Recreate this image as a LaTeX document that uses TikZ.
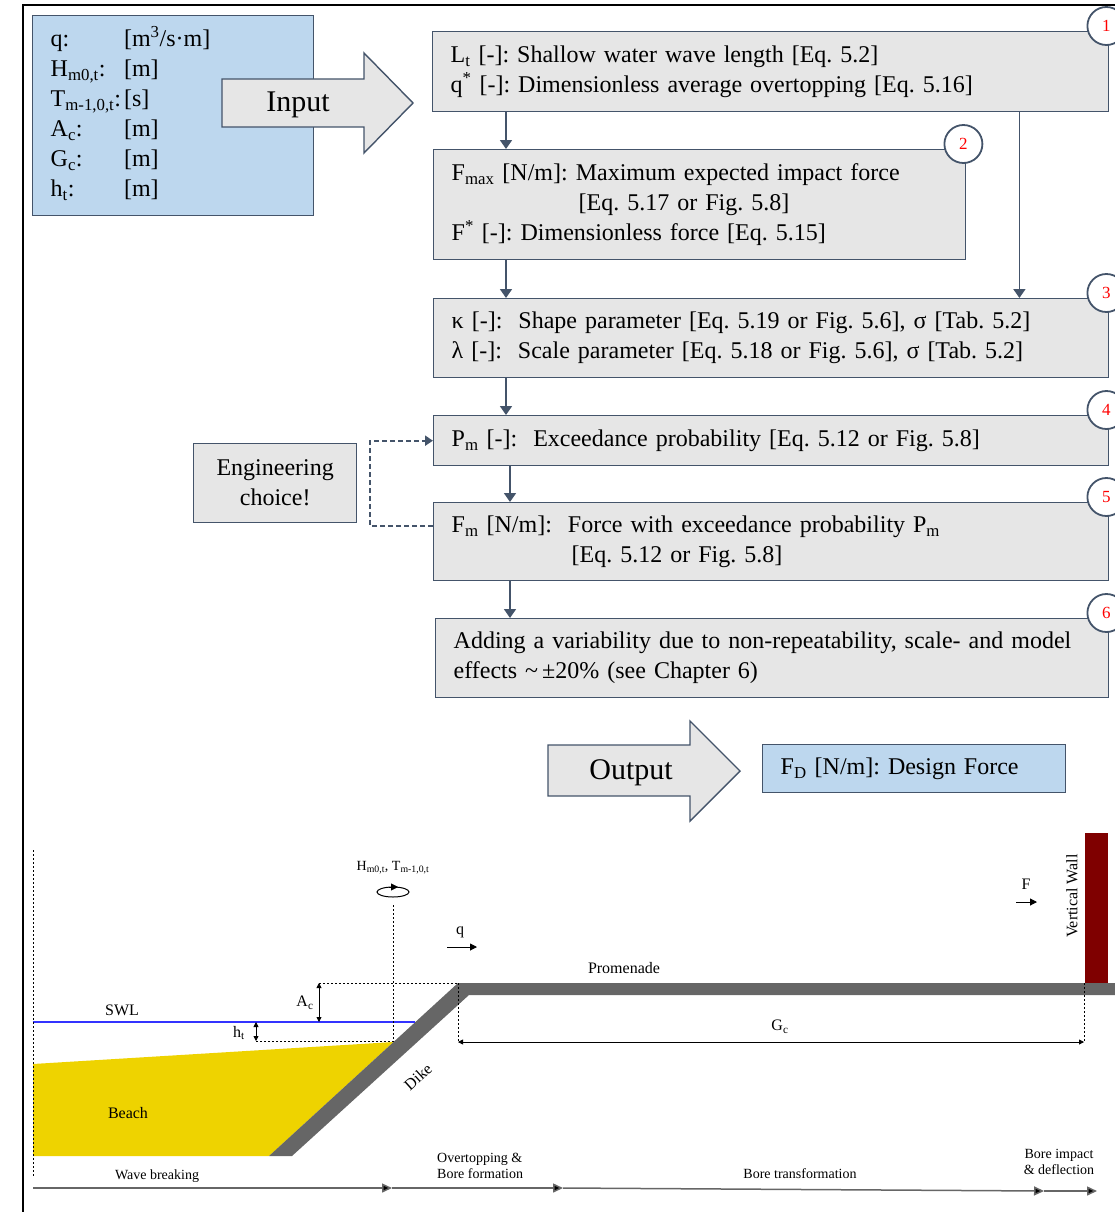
\documentclass[tikz,border=0pt]{standalone}
\usepackage{fontspec}
\setmainfont{Liberation Serif}
\usetikzlibrary{arrows.meta}

\definecolor{slate}{HTML}{44546A}
\definecolor{boxgray}{HTML}{E6E6E6}
\definecolor{inblue}{HTML}{BDD7EE}
\definecolor{sand}{HTML}{EED300}
\definecolor{dikegray}{HTML}{666666}
\definecolor{wallred}{HTML}{7F0000}
\definecolor{swlblue}{HTML}{3333FF}

\frenchspacing

\begin{document}
\begin{tikzpicture}[x=1pt,y=-1pt,
  flow/.style={draw=slate,line width=1.8pt,-{Triangle[length=9pt,width=12pt]}},
  choice line/.style={draw=slate,line width=2pt,dash pattern=on 5pt off 3pt,-{Triangle[length=8pt,width=10pt]}},
  calc box/.style={draw=slate,fill=boxgray,line width=1.4pt,anchor=north west,
    inner xsep=18pt,inner ysep=0pt,align=left,font=\fontsize{24}{30}\selectfont},
  in box/.style={calc box,fill=inblue},
  num/.style={circle,draw=slate,fill=white,line width=1.8pt,minimum size=38pt,
    inner sep=0pt,text=red,font=\fontsize{17}{17}\selectfont},
  big arrow/.style={draw=slate,fill=boxgray,line width=1.4pt,line join=miter},
  label/.style={inner sep=0pt,font=\fontsize{16}{18}\selectfont},
  small label/.style={inner sep=0pt,font=\fontsize{14}{16}\selectfont},
  dim/.style={line width=0.8pt,{Triangle[length=5pt,width=5pt]}-{Triangle[length=5pt,width=5pt]}},
  aux/.style={line width=0.7pt,dash pattern=on 2pt off 2pt},
  phase/.style={draw=black!60,line width=1.5pt,-{Triangle[length=10pt,width=9pt,fill=black]}}]

  \useasboundingbox (0,0) rectangle (1115,1212);
  \clip (0,0) rectangle (1115,1212);
  \draw[line width=2.5pt] (23,1230) -- (23,5) -- (1130,5);

  % input parameters
  \node[in box,text width=245pt,minimum height=200pt] (inp) at (32,15) {%
    \begin{tabular}{@{}l@{\hspace{3pt}}l@{}}
      q: & [m\textsuperscript{3}/s·m]\\
      H\textsubscript{m0,t}: & [m]\\
      T\textsubscript{m-1,0,t}: & [s]\\
      A\textsubscript{c}: & [m]\\
      G\textsubscript{c}: & [m]\\
      h\textsubscript{t}: & [m]
    \end{tabular}};
  \draw[big arrow] (222,79) -- (364,79) -- (364,53) -- (413,103) -- (364,153)
    -- (364,127) -- (222,127) -- cycle;
  \node[font=\fontsize{30}{30}\selectfont] (inlab) at (298,105) {Input};

  % calculation steps
  \node[calc box,text width=640pt,minimum height=80pt] (b1) at (432,31)
    {L\textsubscript{t} [-]: Shallow water wave length [Eq. 5.2]\\
     q\textsuperscript{*} [-]: Dimensionless average overtopping [Eq. 5.16]};
  \node[calc box,text width=496pt,minimum height=110pt] (b2) at (433,149)
    {F\textsubscript{max} [N/m]: Maximum expected impact force\\
     \hspace*{127pt}[Eq. 5.17 or Fig. 5.8]\\
     F\textsuperscript{*} [-]: Dimensionless force [Eq. 5.15]};
  \node[calc box,text width=639pt,minimum height=79pt] (b3) at (433,298)
    {κ [-]:\ \ Shape parameter [Eq. 5.19 or Fig. 5.6], σ [Tab. 5.2]\\
     λ [-]:\ \ Scale parameter [Eq. 5.18 or Fig. 5.6], σ [Tab. 5.2]};
  \node[calc box,text width=639pt,minimum height=50pt] (b4) at (433,415)
    {P\textsubscript{m} [-]:\ \ Exceedance probability [Eq. 5.12 or Fig. 5.8]};
  \node[calc box,text width=639pt,minimum height=78pt] (b5) at (433,502)
    {F\textsubscript{m} [N/m]:\ \ Force with exceedance probability P\textsubscript{m}\\
     \hspace*{120pt}[Eq. 5.12 or Fig. 5.8]};
  \node[calc box,text width=637pt,minimum height=79pt] (b6) at (435,618)
    {Adding a variability due to non-repeatability, scale- and model\\
     effects \textasciitilde\,±20\% (see Chapter 6)};

  \foreach \b in {1,...,6}
    \node[num] (n\b) at ([xshift=-3pt,yshift=5pt]b\b.north east) {\b};

  \node[calc box,fill=boxgray,text width=127pt,minimum height=79pt,align=center,
    font=\fontsize{24}{30}\selectfont] (eng) at (193,443) {Engineering\\choice!};

  \draw[flow] ([xshift=74pt]b1.south west) -- ([xshift=73pt]b2.north west);
  \draw[flow] ([xshift=-90pt]b1.south east) -- ([xshift=-90pt]b3.north east);
  \draw[flow] ([xshift=73pt]b2.south west) -- ([xshift=73pt]b3.north west);
  \draw[flow] ([xshift=73pt]b3.south west) -- ([xshift=73pt]b4.north west);
  \draw[flow] ([xshift=77pt]b4.south west) -- ([xshift=77pt]b5.north west);
  \draw[flow] ([xshift=77pt]b5.south west) -- ([xshift=75pt]b6.north west);
  \draw[choice line] ([yshift=16pt]b5.west) -- ++(-63,0) |- (b4.west);

  % result
  \draw[big arrow] (548,745) -- (690,745) -- (690,721) -- (740,771) -- (690,821)
    -- (690,796) -- (548,796) -- cycle;
  \node[font=\fontsize{30}{30}\selectfont] (outlab) at (631,773) {Output};
  \node[in box,text width=267pt,minimum height=48pt] (fd) at (762,744)
    {F\textsubscript{D} [N/m]: Design Force};

  % cross section: beach, dike, promenade and wall
  \fill[sand] (33,1064) -- (393.5,1042) -- (269,1156) -- (33,1156) -- cycle;
  \fill[dikegray] (269,1156) -- (458,983) -- (1120,983) -- (1120,995)
    -- (469,995) -- (292,1156) -- cycle;
  \fill[wallred] (1085,833) rectangle (1108,983);
  \draw[swlblue,line width=1.2pt] (33,1022) -- (415,1022);

  \draw[aux] (33,850) -- (33,1177);
  \draw[aux] (393,905) -- (393,1042);
  \draw[aux] (256,1041.5) -- (393,1041.5);
  \draw[aux] (319,983) -- (458,983);
  \draw[aux] (458,983) -- (458,1042);
  \draw[aux] (1084,983) -- (1084,1042);
  \draw[dim] (256,1022) -- (256,1041);
  \draw[dim] (319,983) -- (319,1022);
  \draw[dim] (458,1042) -- (1084,1042);

  \draw[line width=1pt] (393,892) ellipse [x radius=16pt,y radius=5pt];
  \draw[-{Triangle[length=7pt,width=7pt]}] (389,887) -- (398,887);
  \draw[line width=1pt,-{Triangle[length=7pt,width=7pt]}] (447,947) -- (477,947);
  \draw[line width=1pt,-{Triangle[length=7pt,width=7pt]}] (1016,902) -- (1037,902);

  \node[label] (swl) at (122,1010) {SWL};
  \node[label] (beach) at (128,1113) {Beach};
  \node[label,rotate=42] (dike) at (418,1077) {Dike};
  \node[label] (prom) at (624,968) {Promenade};
  \node[label,rotate=90] (wall) at (1072,896) {Vertical Wall};
  \node[label] (htlab) at (239,1033) {h\textsubscript{t}};
  \node[label] (aclab) at (305,1003) {A\textsubscript{c}};
  \node[label] (gclab) at (780,1027) {G\textsubscript{c}};
  \node[label] (qlab) at (460,932) {q};
  \node[label] (flab) at (1026,884) {F};
  \node[small label] (wlab) at (393,868) {H\textsubscript{m0,t}, T\textsubscript{m-1,0,t}};

  % process phases along the section
  \draw[phase] (33,1188) -- (392,1188);
  \draw[phase] (392,1188) -- (563,1188);
  \draw[phase] (563,1188) -- (1044,1191);
  \draw[phase] (1044,1191) -- (1097,1191);
  \node[small label] (ph1) at (157,1176) {Wave breaking};
  \node[small label,anchor=west,align=left] (ph2) at (437,1166) {Overtopping \&\\Bore formation};
  \node[small label] (ph3) at (800,1174) {Bore transformation};
  \node[small label,align=center] (ph4) at (1059,1162) {Bore impact\\\& deflection};
\end{tikzpicture}
\end{document}
